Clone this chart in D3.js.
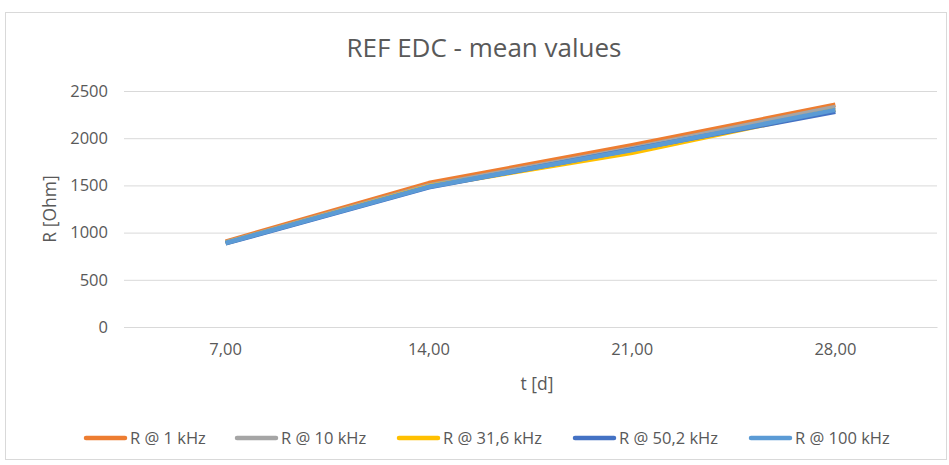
<!DOCTYPE html>
<html>
<head>
<meta charset="utf-8">
<script src="https://cdn.jsdelivr.net/npm/d3@7/dist/d3.min.js"></script>
<style>
  html, body { margin: 0; padding: 0; background: #fff; }
  svg { display: block; font-family: "Open Sans", "Liberation Sans", sans-serif; }
</style>
</head>
<body>
<svg id="chart" width="949" height="465"></svg>
<script>
// Sample age in days
const days = ["7,00", "14,00", "21,00", "28,00"];
// Mean resistance [Ohm] per measuring frequency
const r1k   = [905, 1525, 1925, 2355];
const r10k  = [895, 1500, 1895, 2330];
const r31k  = [890, 1490, 1845, 2300];
const r50k  = [885, 1480, 1880, 2280];
const r100k = [890, 1485, 1875, 2300];
const seriesNames = ["R @ 1 kHz", "R @ 10 kHz", "R @ 31,6 kHz", "R @ 50,2 kHz", "R @ 100 kHz"];
const seriesColors = ["#ED7D31", "#A5A5A5", "#FFC000", "#4472C4", "#5B9BD5"];
const yTicks = [0, 500, 1000, 1500, 2000, 2500];

const series = [r1k, r10k, r31k, r50k, r100k].map((v, i) => ({
  name: seriesNames[i], color: seriesColors[i], values: v
}));

const svg = d3.select("#chart");
const textColor = "#595959";

// chart frame
svg.append("rect")
  .attr("x", 5.5).attr("y", 12.5).attr("width", 941).attr("height", 447)
  .attr("fill", "#fff").attr("stroke", "#d9d9d9");

const plot = { left: 124, right: 937, top: 91, bottom: 327 };

const x = d3.scaleBand().domain(days).range([plot.left, plot.right]);
const y = d3.scaleLinear().domain([0, 2500]).range([plot.bottom, plot.top]);

// title
svg.append("text")
  .attr("x", 484).attr("y", 57)
  .attr("text-anchor", "middle")
  .attr("font-size", 26).attr("fill", textColor)
  .text("REF EDC - mean values");

// horizontal gridlines + y labels
const yAxis = d3.axisLeft(y).tickValues(yTicks)
  .tickSize(-(plot.right - plot.left)).tickPadding(16)
  .tickFormat(d3.format("d"));
const gy = svg.append("g").attr("transform", `translate(${plot.left},0)`).call(yAxis);
gy.attr("font-family", null);
gy.select(".domain").remove();
gy.selectAll(".tick line").attr("stroke", "#d9d9d9").attr("stroke-width", 1);
gy.selectAll(".tick text").attr("fill", textColor).attr("font-size", 16.5);

// x axis labels
const xAxis = d3.axisBottom(x).tickSize(0).tickPadding(16);
const gx = svg.append("g").attr("transform", `translate(0,${plot.bottom})`).call(xAxis);
gx.attr("font-family", null);
gx.select(".domain").attr("stroke", "#d9d9d9");
gx.selectAll(".tick text").attr("fill", textColor).attr("font-size", 16.5);

// axis titles
svg.append("text")
  .attr("transform", `translate(56,${(plot.top + plot.bottom) / 2}) rotate(-90)`)
  .attr("text-anchor", "middle").attr("font-size", 17.5).attr("fill", textColor)
  .text("R [Ohm]");
svg.append("text")
  .attr("x", 537).attr("y", 390)
  .attr("text-anchor", "middle").attr("font-size", 17.5).attr("fill", textColor)
  .text("t [d]");

// series lines
const line = d3.line()
  .x((d, i) => x(days[i]) + x.bandwidth() / 2)
  .y(d => y(d));

svg.append("g").selectAll("path").data(series).join("path")
  .attr("d", d => line(d.values))
  .attr("fill", "none")
  .attr("stroke", d => d.color)
  .attr("stroke-width", 4.5)
  .attr("stroke-linejoin", "round")
  .attr("stroke-linecap", "butt");

// legend
const legendX = [84, 235, 397, 573, 749];
const lg = svg.append("g").selectAll("g").data(series).join("g")
  .attr("transform", (d, i) => `translate(${legendX[i]},438)`);
lg.append("line")
  .attr("x1", 2).attr("x2", 41).attr("y1", 0).attr("y2", 0)
  .attr("stroke", d => d.color).attr("stroke-width", 4.5).attr("stroke-linecap", "round");
lg.append("text")
  .attr("x", 46).attr("y", 6)
  .attr("font-size", 16.5).attr("fill", textColor)
  .text(d => d.name);
</script>
</body>
</html>
